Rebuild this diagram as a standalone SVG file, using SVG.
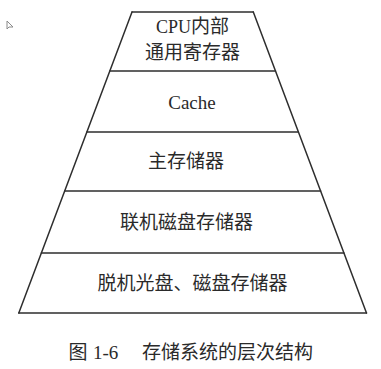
<svg xmlns="http://www.w3.org/2000/svg" width="381" height="369" viewBox="0 0 381 369">
  <style>
    .edge { stroke: #2e2e2e; stroke-width: 1.5; fill: none; stroke-linecap: round; }
    .zh { font-family: "Noto Sans CJK SC", "Liberation Serif", serif; font-size: 19px; fill: #2a2a2a; text-anchor: middle; }
    .en { font-family: "Liberation Serif", "Noto Sans CJK SC", serif; font-size: 18px; fill: #2a2a2a; }
  </style>
  <rect width="381" height="369" fill="#ffffff"/>

  <!-- small pointer glyph in the corner -->
  <path d="M7,21 L7,29 L9,27 L13,27 Z" fill="none" stroke="#8a8a8a" stroke-width="1"/>

  <!-- pyramid outline and level dividers -->
  <g id="connectors">
    <line class="edge" x1="132" y1="12" x2="253.3" y2="12" stroke-width="2.2"/>
    <line class="edge" x1="132" y1="12" x2="18.8" y2="313"/>
    <line class="edge" x1="253.3" y1="12" x2="366.5" y2="313"/>
    <line class="edge" x1="18.8" y1="313" x2="366.5" y2="313" stroke-width="1.8"/>
  </g>

  <g id="level-registers">
    <text class="zh" x="192.5" y="33"><tspan class="en" style="font-size:18px">CPU</tspan>内部</text>
    <text class="zh" x="192.5" y="59">通用寄存器</text>
  </g>

  <g id="level-cache">
    <line class="edge" x1="109.8" y1="71" x2="275.5" y2="71"/>
    <text class="en" x="192" y="109" text-anchor="middle" style="font-size:19px">Cache</text>
  </g>

  <g id="level-main-memory">
    <line class="edge" x1="86.9" y1="132" x2="298.4" y2="132"/>
    <text class="zh" x="186" y="168">主存储器</text>
  </g>

  <g id="level-online-disk">
    <line class="edge" x1="64.7" y1="191" x2="320.6" y2="191"/>
    <text class="zh" x="186.5" y="229">联机磁盘存储器</text>
  </g>

  <g id="level-offline-storage">
    <line class="edge" x1="41.4" y1="253" x2="343.9" y2="253"/>
    <text class="zh" x="192.5" y="290">脱机光盘、磁盘存储器</text>
  </g>

  <!-- figure caption -->
  <g id="caption">
    <text class="zh" x="78" y="359">图</text>
    <text class="en" x="93" y="359" style="font-size:19px">1-6</text>
    <text class="zh" x="227.5" y="359">存储系统的层次结构</text>
  </g>
</svg>
